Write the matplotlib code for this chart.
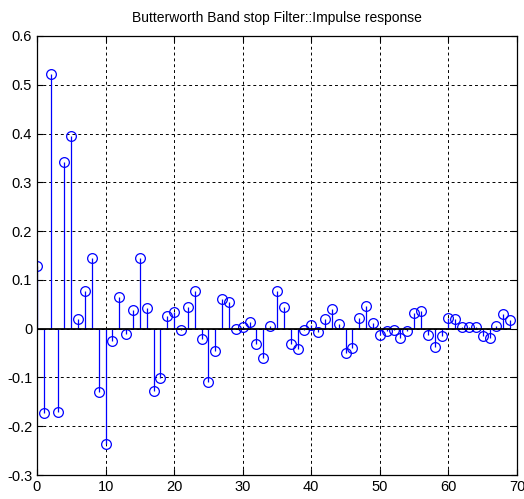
import matplotlib
matplotlib.use("Agg")
import matplotlib.pyplot as plt
import numpy as np

n = list(range(70))
h = [0.129, -0.173, 0.522, -0.170, 0.341, 0.394, 0.020, 0.077, 0.144, -0.130,
     -0.237, -0.026, 0.065, -0.010, 0.039, 0.144, 0.043, -0.127, -0.101, 0.027,
     0.034, -0.002, 0.045, 0.077, -0.021, -0.109, -0.046, 0.061, 0.055, -0.001,
     0.003, 0.014, -0.031, -0.061, 0.006, 0.077, 0.044, -0.032, -0.042, -0.002,
     0.008, -0.006, 0.019, 0.041, 0.009, -0.050, -0.040, 0.021, 0.046, 0.012,
     -0.013, -0.004, -0.002, -0.019, -0.004, 0.032, 0.036, -0.012, -0.038, -0.014,
     0.021, 0.019, 0.003, 0.003, 0.003, -0.014, -0.019, 0.006, 0.030, 0.017]
xticks = [0, 10, 20, 30, 40, 50, 60, 70]
yticks = [-0.3, -0.2, -0.1, 0, 0.1, 0.2, 0.3, 0.4, 0.5, 0.6]
ytick_labels = ['-0.3', '-0.2', '-0.1', '0', '0.1', '0.2', '0.3', '0.4', '0.5', '0.6']
title = "Butterworth Band stop Filter::Impulse response"

plt.rcParams['font.family'] = ['Liberation Sans', 'DejaVu Sans']

fig = plt.figure(figsize=(5.24, 4.99), dpi=100)
ax = fig.add_axes([0.0706, 0.048, 0.916, 0.880])

ml, sl, bl = ax.stem(n, h, basefmt='k-')
plt.setp(sl, color='#0000ff', linewidth=0.9)
plt.setp(ml, color='#0000ff', markerfacecolor='none', markersize=7, markeredgewidth=0.9)
plt.setp(bl, color='black', linewidth=1.3)

ax.set_xlim(0, 70)
ax.set_ylim(-0.3, 0.6)
ax.set_xticks(xticks)
ax.set_yticks(yticks)
ax.set_yticklabels(ytick_labels)
ax.grid(True, color='black', linestyle=(0, (3, 3)), linewidth=0.7)
ax.tick_params(direction='in', top=True, right=True, labelsize=10.5, length=4, colors='black')
for s in ax.spines.values():
    s.set_linewidth(0.9)
ax.set_title(title, fontsize=10, pad=10)

fig.savefig("out.png", dpi=100)
